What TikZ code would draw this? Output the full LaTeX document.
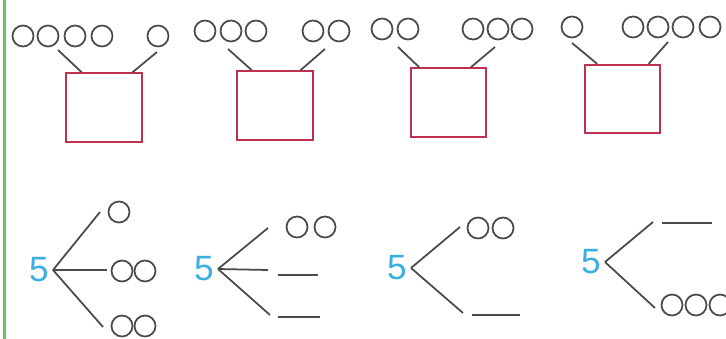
\documentclass[tikz,border=0pt]{standalone}
\usepackage{fontspec}
\usepackage{tikz}
\usetikzlibrary{positioning, calc}
\newfontfamily\digitfont{Liberation Sans}
\definecolor{inkgray}{HTML}{4A4A4A}
\definecolor{boxred}{HTML}{BE3250}
\definecolor{fiveblue}{HTML}{3CAFE1}
\definecolor{margingreen}{HTML}{6EBE64}

\begin{document}
\begin{tikzpicture}[x=0.3mm, y=-0.3mm,
    dot/.style={circle, draw=inkgray, line width=1.5pt, minimum size=6.3mm, inner sep=0pt},
    answer/.style={rectangle, draw=boxred, line width=1.5pt, minimum width=22.6mm,
                   minimum height=20.6mm, inner sep=0pt},
    link/.style={draw=inkgray, line width=1.5pt},
    blank/.style={draw=inkgray, line width=1.5pt},
    total/.style={font=\digitfont\fontsize{30}{30}\selectfont, text=fiveblue,
                  inner xsep=1.2mm, inner ysep=0pt}
]
\useasboundingbox (0,0) rectangle (726,339);
\draw[margingreen, line width=0.9mm] (4,0) -- (4,339);

% top row: two groups of dots joined into one box
\foreach \x [count=\i] in {23,48,75,102} \node[dot] (p1l\i) at (\x,36) {};
\node[dot] (p1r1) at (158,36) {};
\node[answer] (box1) at (104,107.5) {};
\coordinate (t1l) at (58,50);
\coordinate (t1r) at (157,52);
\draw[link] (t1l) -- ($(box1.north west)!0.21!(box1.north east)$);
\draw[link] (t1r) -- ($(box1.north west)!0.87!(box1.north east)$);

\foreach \x [count=\i] in {205,231,256} \node[dot] (p2l\i) at (\x,31) {};
\foreach \x [count=\i] in {313,339} \node[dot] (p2r\i) at (\x,31) {};
\node[answer] (box2) at (275,105.5) {};
\coordinate (t2l) at (228,49);
\coordinate (t2r) at (325,49);
\draw[link] (t2l) -- ($(box2.north west)!0.2!(box2.north east)$);
\draw[link] (t2r) -- ($(box2.north west)!0.83!(box2.north east)$);

\foreach \x [count=\i] in {382,408} \node[dot] (p3l\i) at (\x,29) {};
\foreach \x [count=\i] in {473,498,522} \node[dot] (p3r\i) at (\x,29) {};
\node[answer] (box3) at (448.5,102.5) {};
\coordinate (t3l) at (398,47);
\coordinate (t3r) at (495,47);
\draw[link] (t3l) -- ($(box3.north west)!0.12!(box3.north east)$);
\draw[link] (t3r) -- ($(box3.north west)!0.79!(box3.north east)$);

\node[dot] (p4l1) at (572,27) {};
\foreach \x [count=\i] in {633,658,683,710} \node[dot] (p4r\i) at (\x,27) {};
\node[answer] (box4) at (622.5,99) {};
\coordinate (t4l) at (572,43);
\coordinate (t4r) at (668,42);
\draw[link] (t4l) -- ($(box4.north west)!0.17!(box4.north east)$);
\draw[link] (t4r) -- ($(box4.north west)!0.84!(box4.north east)$);

% bottom row: splitting 5
\node[total] (five1) at (39,270) {5};
\node[dot] (q1a) at (119,212) {};
\node[dot] (q1b) at (122,271) {};
\node[dot] (q1c) at (145,271) {};
\node[dot] (q1d) at (122,326) {};
\node[dot] (q1e) at (145,326) {};
\coordinate (e1a) at (100,212);
\coordinate (e1b) at (107,270);
\coordinate (e1c) at (103,327);
\draw[link] (five1.east) -- (e1a);
\draw[link] (five1.east) -- (e1b);
\draw[link] (five1.east) -- (e1c);

\node[total] (five2) at (204,269) {5};
\node[dot] (q2a) at (297,227) {};
\node[dot] (q2b) at (325,227) {};
\coordinate (e2a) at (268,228);
\coordinate (e2b) at (268,270);
\coordinate (e2c) at (270,315);
\draw[link] (five2.east) -- (e2a);
\draw[link] (five2.east) -- (e2b);
\draw[link] (five2.east) -- (e2c);
\draw[blank] (278,275) -- (318,275);
\draw[blank] (278,317) -- (320,317);

\node[total] (five3) at (397,268) {5};
\node[dot] (q3a) at (478,228) {};
\node[dot] (q3b) at (503,228) {};
\coordinate (e3a) at (460,227);
\coordinate (e3b) at (463,313);
\draw[link] (five3.east) -- (e3a);
\draw[link] (five3.east) -- (e3b);
\draw[blank] (472,315) -- (520,315);

\node[total] (five4) at (591,262) {5};
\node[dot] (q4a) at (672,305) {};
\node[dot] (q4b) at (696,305) {};
\node[dot] (q4c) at (720,305) {};
\coordinate (e4a) at (653,222);
\coordinate (e4b) at (655,308);
\draw[link] (five4.east) -- (e4a);
\draw[link] (five4.east) -- (e4b);
\draw[blank] (662,223) -- (712,223);
\end{tikzpicture}
\end{document}
